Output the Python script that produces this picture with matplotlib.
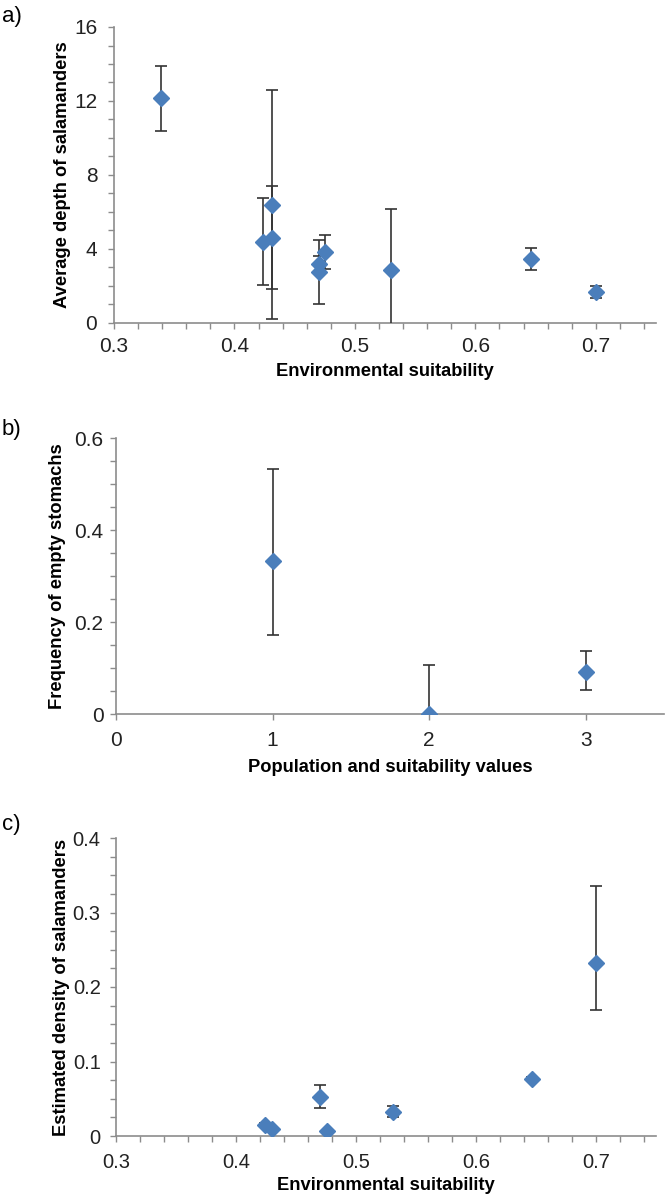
import numpy as np
import matplotlib.pyplot as plt
import matplotlib.transforms as mtransforms
from matplotlib.ticker import MultipleLocator

plt.rcParams['font.family'] = ['Liberation Sans', 'DejaVu Sans']

# a) depth vs suitability
suit_a = [0.339, 0.424, 0.431, 0.431, 0.470, 0.470, 0.4755, 0.530, 0.646, 0.700]
depth = [12.15, 4.40, 6.40, 4.60, 2.74, 3.17, 3.85, 2.86, 3.48, 1.66]
depth_err = [1.75, 2.37, 6.20, 2.78, 1.72, 0.45, 0.92, 3.30, 0.59, 0.32]

# b) empty stomachs vs population
pop = [1, 2, 3]
empty = [0.333, 0.0, 0.0905]
empty_lo = [0.162, 0.0, 0.038]
empty_hi = [0.199, 0.107, 0.046]

# c) density vs suitability
suit_c = [0.424, 0.430, 0.470, 0.4756, 0.531, 0.647, 0.700]
density = [0.0153, 0.010, 0.0525, 0.0063, 0.0323, 0.077, 0.232]
dens_lo = [0.002, 0.002, 0.0155, 0.002, 0.0067, 0.002, 0.063]
dens_hi = [0.002, 0.002, 0.0155, 0.002, 0.0077, 0.002, 0.104]

blue = '#4a7ebb'
ecol = '#333333'
grey = '#8c8c8c'

W, H = 666, 1197
fig = plt.figure(figsize=(W / 100, H / 100), dpi=100)


def box(l, r, t, b):
    return [l / W, 1 - b / H, (r - l) / W, (b - t) / H]


def style(ax, size, xpad, ypad):
    for s in ['top', 'right']:
        ax.spines[s].set_visible(False)
    for s in ['left', 'bottom']:
        ax.spines[s].set_color(grey)
        ax.spines[s].set_linewidth(1.2)
    ax.tick_params(which='both', color=grey, labelsize=size, labelcolor='#222222',
                   length=4, width=1, direction='out')
    ax.tick_params(axis='x', pad=xpad)
    ax.tick_params(axis='y', pad=ypad)


def labels(ax, xl, yl, ylab_right, xlab_top):
    ax.set_xlabel(xl, fontsize=13.2, fontweight='bold', va='top')
    ax.set_ylabel(yl, fontsize=13.2, fontweight='bold')
    ax.yaxis.set_label_coords(ylab_right / W, 0.5,
                              transform=mtransforms.blended_transform_factory(fig.transFigure, ax.transAxes))
    ax.xaxis.set_label_coords(0.5, 1 - xlab_top / H,
                              transform=mtransforms.blended_transform_factory(ax.transAxes, fig.transFigure))


def draw(ax, x, y, err):
    ax.errorbar(x, y, yerr=err, fmt='D', color=blue, ms=8, mec=blue,
                ecolor=ecol, elinewidth=1.2, capsize=4, capthick=1.2,
                zorder=3)


fmt1 = plt.FuncFormatter(lambda v, p: '%.1f' % v)
fmt0 = plt.FuncFormatter(lambda v, p: '0' if abs(v) < 1e-9 else '%.1f' % v)

# panel a
ax1 = fig.add_axes(box(114, 656, 27, 323))
draw(ax1, suit_a, depth, depth_err)
ax1.set_xlim(0.3, 0.75)
ax1.set_ylim(0, 16)
ax1.xaxis.set_major_locator(MultipleLocator(0.1))
ax1.xaxis.set_minor_locator(MultipleLocator(0.02))
ax1.yaxis.set_major_locator(MultipleLocator(4))
ax1.yaxis.set_minor_locator(MultipleLocator(1))
ax1.xaxis.set_major_formatter(fmt1)
style(ax1, 15, 6, 8)
labels(ax1, 'Environmental suitability', 'Average depth of salamanders', 71, 363)
fig.text(2 / W, 1 - 6 / H, 'a)', fontsize=16, va='top')

# panel b
ax2 = fig.add_axes(box(116, 664, 438, 714))
draw(ax2, pop, empty, [empty_lo, empty_hi])
ax2.set_xlim(0, 3.5)
ax2.set_ylim(0, 0.6)
ax2.xaxis.set_major_locator(MultipleLocator(1))
ax2.yaxis.set_major_locator(MultipleLocator(0.2))
ax2.yaxis.set_minor_locator(MultipleLocator(0.05))
ax2.yaxis.set_major_formatter(fmt0)
style(ax2, 15, 8, 5)
labels(ax2, 'Population and suitability values', 'Frequency of empty stomachs', 66, 759)
fig.text(2 / W, 1 - 419 / H, 'b)', fontsize=16, va='top')

# panel c
ax3 = fig.add_axes(box(116, 656, 838, 1136))
draw(ax3, suit_c, density, [dens_lo, dens_hi])
ax3.set_xlim(0.3, 0.75)
ax3.set_ylim(0, 0.4)
ax3.xaxis.set_major_locator(MultipleLocator(0.1))
ax3.xaxis.set_minor_locator(MultipleLocator(0.02))
ax3.yaxis.set_major_locator(MultipleLocator(0.1))
ax3.yaxis.set_minor_locator(MultipleLocator(0.025))
ax3.xaxis.set_major_formatter(fmt1)
ax3.yaxis.set_major_formatter(fmt0)
style(ax3, 14.5, 8, 7)
labels(ax3, 'Environmental suitability', 'Estimated density of salamanders', 70, 1177)
fig.text(2 / W, 1 - 814 / H, 'c)', fontsize=16, va='top')

fig.savefig('out.png', dpi=100)
